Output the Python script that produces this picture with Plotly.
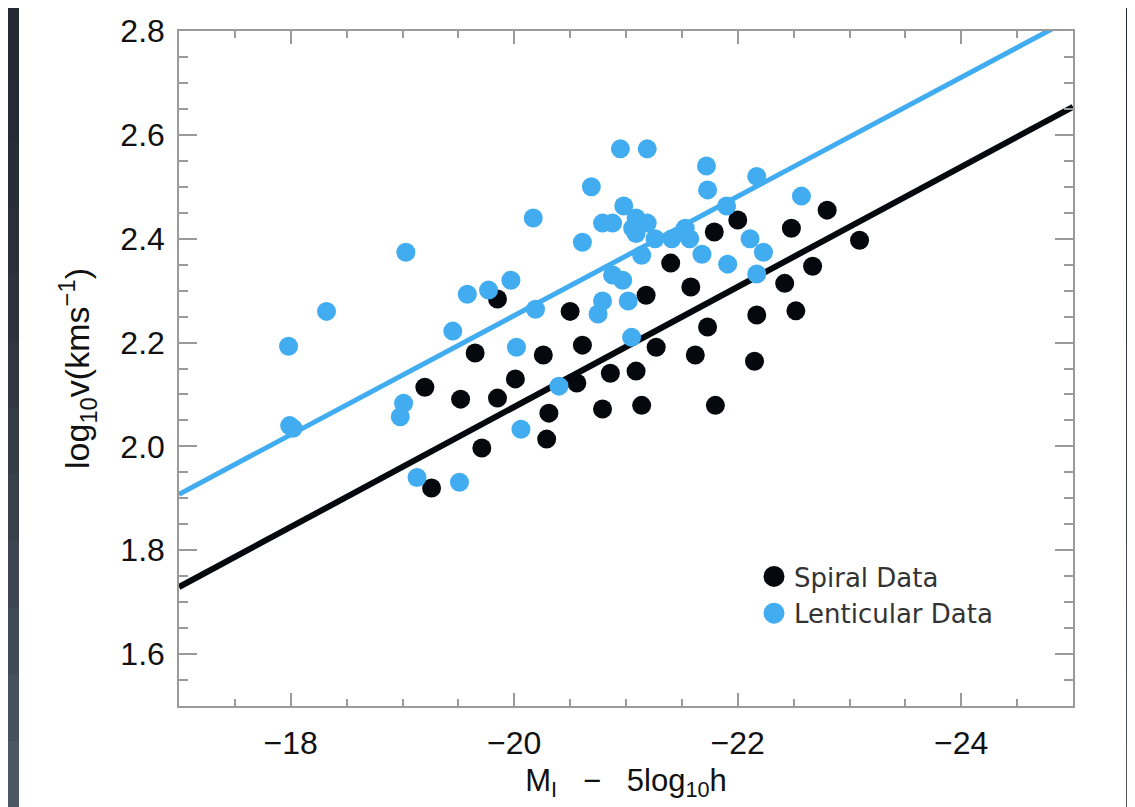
import plotly.graph_objects as go

# ---- data ----
spiral_M = [-19.20, -19.26, -19.52, -19.65, -19.71, -19.85, -19.85, -20.01, -20.26, -20.29,
            -20.31, -20.50, -20.56, -20.61, -20.79, -20.86, -21.09, -21.14, -21.18, -21.27,
            -21.40, -21.58, -21.62, -21.73, -21.79, -21.80, -22.00, -22.15, -22.17, -22.42,
            -22.48, -22.52, -22.67, -22.80, -23.09]
spiral_logv = [2.114, 1.920, 2.091, 2.180, 1.997, 2.284, 2.093, 2.130, 2.176, 2.014,
               2.064, 2.260, 2.122, 2.195, 2.072, 2.141, 2.145, 2.079, 2.291, 2.191,
               2.353, 2.307, 2.176, 2.230, 2.413, 2.079, 2.436, 2.164, 2.253, 2.314,
               2.420, 2.261, 2.347, 2.455, 2.397]

lent_M = [-17.98, -17.99, -18.02, -18.32, -19.03, -19.01, -18.98, -19.13, -19.51, -19.45,
          -19.58, -19.77, -19.97, -20.02, -20.17, -20.19, -20.06, -20.40, -20.95, -21.19,
          -20.69, -21.72, -22.17, -21.73, -22.57, -20.98, -21.90, -20.79, -20.88, -21.09,
          -21.06, -21.19, -21.09, -20.61, -21.26, -21.41, -21.53, -21.57, -21.14, -21.68,
          -22.11, -22.23, -21.91, -22.17, -20.88, -20.97, -20.79, -21.02, -20.75, -21.05]
lent_logv = [2.193, 2.040, 2.035, 2.260, 2.374, 2.083, 2.057, 1.940, 1.931, 2.222,
             2.293, 2.301, 2.320, 2.191, 2.440, 2.264, 2.033, 2.116, 2.573, 2.573,
             2.500, 2.540, 2.520, 2.494, 2.482, 2.463, 2.463, 2.430, 2.430, 2.440,
             2.420, 2.430, 2.410, 2.393, 2.400, 2.400, 2.420, 2.400, 2.368, 2.370,
             2.400, 2.374, 2.351, 2.332, 2.330, 2.320, 2.280, 2.280, 2.255, 2.210]

# linear fits: logv = a + b * M
spiral_fit = {"a": -0.236, "b": -0.1156}
lent_fit = {"a": -0.042, "b": -0.1147}
fit_M = [-17.0, -25.0]

x_ticks = [-18, -20, -22, -24]
y_ticks = [1.6, 1.8, 2.0, 2.2, 2.4, 2.6, 2.8]

BLUE = "#41adf0"
BLACK = "#05080c"
FONT = "Liberation Sans, Arial, sans-serif"

fig = go.Figure()

fig.add_trace(go.Scatter(
    x=fit_M, y=[lent_fit["a"] + lent_fit["b"] * m for m in fit_M],
    mode="lines", line=dict(color=BLUE, width=5), showlegend=False, hoverinfo="skip"))
fig.add_trace(go.Scatter(
    x=fit_M, y=[spiral_fit["a"] + spiral_fit["b"] * m for m in fit_M],
    mode="lines", line=dict(color=BLACK, width=6), showlegend=False, hoverinfo="skip"))

fig.add_trace(go.Scatter(
    x=spiral_M, y=spiral_logv, mode="markers", name="Spiral Data",
    marker=dict(color=BLACK, size=19, line=dict(width=0)), showlegend=False))
fig.add_trace(go.Scatter(
    x=lent_M, y=lent_logv, mode="markers", name="Lenticular Data",
    marker=dict(color=BLUE, size=19, line=dict(width=0)), showlegend=False))

# legend entries (larger symbols, as in the reference)
fig.add_trace(go.Scatter(
    x=[None], y=[None], mode="markers", name="Spiral Data",
    marker=dict(color=BLACK, size=22, line=dict(color=BLACK, width=5))))
fig.add_trace(go.Scatter(
    x=[None], y=[None], mode="markers", name="Lenticular Data",
    marker=dict(color=BLUE, size=22, line=dict(color=BLUE, width=5))))

# the page places the figure 8px from the top-left corner
OFF = 8
W, H = 1135 - OFF, 807 - OFF
ml, mr, mt, mb = 179 - OFF, 62, 31 - OFF, 101
pw, ph = W - ml - mr, H - mt - mb

def px_to_paper_x(px):  # px in page coordinates
    return (px - OFF - ml) / pw

def px_to_paper_y(py):
    return (H - mb - (py - OFF)) / ph

shapes = []
# white panel
shapes.append(dict(type="rect", xref="paper", yref="paper", layer="below",
                   x0=px_to_paper_x(19), x1=px_to_paper_x(1126),
                   y0=px_to_paper_y(820), y1=px_to_paper_y(0),
                   fillcolor="white", line=dict(width=0)))
# subtle gradient on the dark side strips
n = 12
for i in range(n):
    t = i / (n - 1)
    r = int(0x24 + (0x4c - 0x24) * t ** 1.5)
    g = int(0x2a + (0x57 - 0x2a) * t ** 1.5)
    b = int(0x33 + (0x62 - 0x33) * t ** 1.5)
    col = f"rgb({r},{g},{b})"
    y0 = OFF + (H) * i / n
    y1 = OFF + (H) * (i + 1) / n
    for x0, x1 in [(0, 19), (1126, 1140)]:
        shapes.append(dict(type="rect", xref="paper", yref="paper", layer="below",
                           x0=px_to_paper_x(x0), x1=px_to_paper_x(x1),
                           y0=px_to_paper_y(y1 + 0.5), y1=px_to_paper_y(y0),
                           fillcolor=col, line=dict(width=0)))

axis_common = dict(
    showgrid=False, zeroline=False, showline=True, linecolor="#9a9a9a", linewidth=1.5,
    mirror="allticks", ticks="inside", tickcolor="#9a9a9a", tickwidth=1.5,
    tickfont=dict(family=FONT, size=32, color="#111111"),
)

fig.update_layout(
    width=W, height=H,
    margin=dict(l=ml, r=mr, t=mt, b=mb, autoexpand=False),
    paper_bgcolor="#242a33",
    plot_bgcolor="white",
    shapes=shapes,
    xaxis=dict(
        **axis_common,
        range=[-17, -25], tickvals=x_ticks, ticklen=13,
        minor=dict(dtick=0.5, ticks="inside", ticklen=7, tickcolor="#9a9a9a", tickwidth=1.5),
        ticklabelstandoff=8,
        title=dict(text="M<sub>I</sub>   \u2212   5log<sub>10</sub>h",
                   font=dict(family=FONT, size=31, color="#111111"),
                   standoff=9),
    ),
    yaxis=dict(
        **axis_common,
        range=[1.5, 2.8], tickvals=y_ticks, tickformat=".1f", ticklen=18,
        minor=dict(dtick=0.05, ticks="inside", ticklen=9, tickcolor="#9a9a9a", tickwidth=1.5),
        ticklabelstandoff=6,
        title=dict(text="log<sub>10</sub>v(kms<sup>\u22121</sup>)",
                   font=dict(family=FONT, size=34, color="#111111"),
                   standoff=20),
    ),
    legend=dict(
        x=px_to_paper_x(754), y=px_to_paper_y(553), xanchor="left", yanchor="top",
        bgcolor="rgba(0,0,0,0)", borderwidth=0, itemwidth=30, tracegroupgap=0,
        font=dict(family="DejaVu Sans, sans-serif", size=26, color="#333333"),
    ),
    showlegend=True,
)

fig.write_html("out.html")
